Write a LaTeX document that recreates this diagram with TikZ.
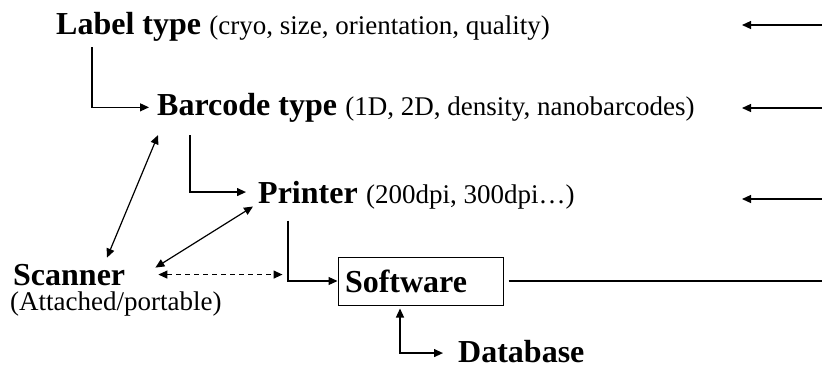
\documentclass[tikz,border=0pt]{standalone}
\usepackage{fontspec}
\setmainfont{Liberation Serif}
\usetikzlibrary{arrows.meta}
\tikzset{
  big/.style={font=\fontsize{32}{32}\selectfont\bfseries, inner sep=0pt, anchor=base west},
  small/.style={font=\fontsize{27}{27}\selectfont, inner sep=0pt, anchor=base west},
  conn/.style={line width=1.2pt, -{Triangle[length=9pt,width=8pt]}},
  conn2/.style={line width=1.2pt, {Triangle[length=9pt,width=8pt]}-{Triangle[length=9pt,width=8pt]}},
  plain/.style={line width=1.2pt},
  swbox/.style={draw, line width=1pt, text width=151pt, align=left, inner xsep=7pt, inner ysep=0pt,
    minimum height=48pt, font=\fontsize{32}{32}\selectfont\bfseries}
}
\begin{document}
\begin{tikzpicture}[x=1pt,y=-1pt]
\useasboundingbox[fill=white] (0,0) rectangle (822,370);
% texts
\node[big] (lab) at (56,34) {Label type};
\node[small] (labd) at ([xshift=8pt]lab.base east) {(cryo, size, orientation, quality)};
\node[big] (bar) at (157,115) {Barcode type};
\node[small] (bard) at ([xshift=8pt]bar.base east) {(1D, 2D, density, nanobarcodes)};
\node[big] (prn) at (258,203) {Printer};
\node[small] (prnd) at ([xshift=8pt]prn.base east) {(200dpi, 300dpi…)};
\node[big] (scn) at (13,285) {Scanner};
\node[small] (scnd) at (10,310) {(Attached/portable)};
\node[swbox] (sw) at (420.5,281) {Software};
\node[big] (db) at (458,362) {Database};
% free ends on the right
\coordinate (e1) at (822,25);  \coordinate (t1) at (742,25);
\coordinate (e2) at (822,108); \coordinate (t2) at (742,108);
\coordinate (e3) at (822,199); \coordinate (t3) at (742,199);
\coordinate (e4) at (822,0);
% connectors
\draw[conn] ([xshift=36pt,yshift=-6pt]lab.south west) |- ([xshift=-8pt]bar.west);
\draw[conn] ([xshift=33pt,yshift=-13pt]bar.south west) |- ([xshift=-12pt]prn.west);
\draw[conn] ([xshift=30pt,yshift=-17pt]prn.south west) |- (sw.west);
\draw[conn2] ([xshift=-20.5pt,yshift=-3pt]sw.south) |- ([xshift=-15pt,yshift=-2pt]db.west);
\draw[conn2] ([xshift=94pt,yshift=6pt]scn.north west) -- ([xshift=1pt,yshift=-13pt]bar.south west);
\draw[conn2] ([xshift=30pt,yshift=-4pt]scn.north east) -- ([xshift=-5pt,yshift=-3pt]prn.south west);
\draw[conn2, dashed, dash pattern=on 5pt off 4pt] ([xshift=33pt]scn.east) -- ([xshift=-55pt]scn.east -| sw.west);
\draw[plain] ([xshift=5pt]sw.east) -- (sw.east -| e4);
\draw[conn] (e1) -- (t1);
\draw[conn] (e2) -- (t2);
\draw[conn] (e3) -- (t3);
\end{tikzpicture}
\end{document}
